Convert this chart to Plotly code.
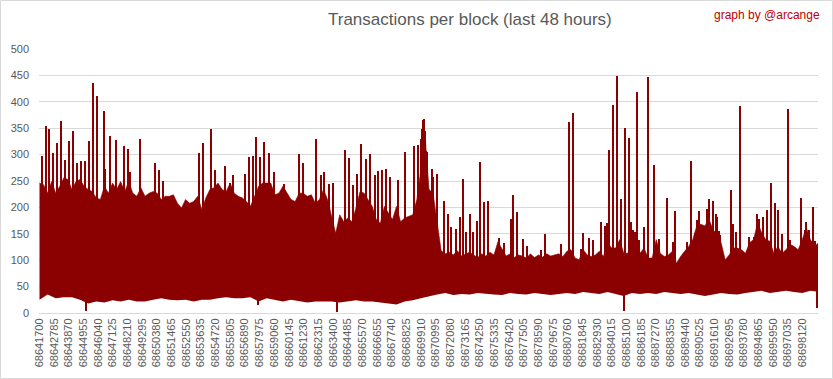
import plotly.graph_objects as go

# ---------------- data ----------------
FIRST_BLOCK = 68641700
TICK_STEP = 1085
TICK_COUNT = 53

# upper edge of the dense band, sampled every 300 blocks
top_blocks = [FIRST_BLOCK + 300 * k for k in range(193)]
env_top = [246, 243, 227, 249, 227, 240, 256, 253, 234, 249,
           253, 240, 234, 230, 218, 215, 240, 227, 246, 234,
           249, 230, 249, 227, 221, 237, 221, 227, 230, 227,
           215, 221, 221, 224, 208, 199, 215, 208, 211, 221,
           196, 218, 234, 237, 246, 234, 230, 246, 227, 221,
           218, 211, 202, 221, 240, 246, 246, 246, 224, 227,
           240, 227, 215, 211, 227, 227, 221,
           224, 208, 215, 234, 215, 183, 151, 186, 173, 180,
           173, 199, 230, 227, 215, 202, 177, 170, 202, 189,
           177, 202, 173, 180, 183, 186, 215, 272, 340, 234,
           227, 177,
           118, 112, 115, 110, 118, 108, 112, 115, 110, 105,
           112, 108, 115, 110, 135, 120, 108, 112, 105, 110,
           108, 104, 112, 105, 110, 106, 112, 108, 110, 112,
           107, 117, 120, 104, 101, 120, 110, 107, 110, 117,
           107, 133, 123, 123, 139, 113, 113, 133, 130, 113,
           123, 104, 104, 139, 113, 107, 110, 117, 94, 107,
           117, 126, 139, 165, 168, 165, 178, 158, 149, 133,
           101, 110, 123, 123, 120, 113, 133, 139, 171, 152,
           139, 136, 113, 126, 113, 120, 130, 126, 120, 139,
           162, 139, 126, 133]

# lower edge of the dense band, sampled every 600 blocks
low_blocks = [FIRST_BLOCK + 600 * k for k in range(97)]
env_low = [25, 35, 28, 30, 30, 25, 18, 22, 20, 24,
           22, 25, 22, 22, 25, 28, 25, 24, 25, 22,
           25, 25, 28, 30, 28, 28, 30, 22, 28, 25,
           22, 25, 22, 20, 22, 22, 22, 20, 22, 24,
           22, 22, 20, 18, 16, 22, 24, 28, 32, 35,
           38, 34, 36, 35, 38, 36, 35, 34, 38, 36,
           35, 38, 36, 34, 36, 38, 36, 40, 38, 36,
           40, 36, 32, 38, 36, 38, 36, 40, 38, 36,
           38, 35, 32, 35, 38, 36, 35, 38, 40, 42,
           38, 40, 42, 40, 38, 42, 40]

# individual blocks standing out above the dense band
spike_blocks = [
    68641922, 68642218, 68642439, 68642735, 68643031, 68643327, 68643622, 68643918,
    68644214, 68644510, 68644805, 68645101, 68645397, 68645693, 68645989, 68646506,
    68646580, 68646950, 68647393, 68647985, 68648281, 68648429, 68649168, 68650277,
    68650573, 68650869, 68653530, 68653826, 68654418, 68654713, 68655453, 68655823,
    68656044, 68656932, 68657227, 68657523, 68657745, 68658041, 68658337, 68658706,
    68659076,
    68659815, 68660924, 68661220, 68662181, 68662551, 68662773, 68663143, 68663438,
    68664326, 68664621, 68664917, 68665213, 68665509, 68665878, 68666174, 68666544,
    68666766, 68667061, 68667357, 68667653, 68668244, 68668762, 68669428, 68669723,
    68669945, 68670019, 68670093, 68670167, 68670241, 68670315, 68670389, 68670758,
    68670832, 68671128, 68671646, 68671941, 68672163, 68672533, 68672829, 68673051,
    68673272, 68673568, 68673790, 68674086, 68674308, 68674603, 68674899, 68675712,
    68676082, 68676600, 68676748, 68677043, 68677487, 68677783, 68678818, 68679114,
    68680297, 68680888, 68681184, 68681775, 68681923, 68682367, 68682663, 68683254,
    68683550, 68683698, 68683846, 68684142, 68684437, 68684733, 68685029, 68685325,
    68685472, 68685620, 68685768, 68685916, 68686064, 68686434, 68686729, 68687173,
    68687543, 68688134, 68688578, 68688726, 68689613, 68689909, 68690205, 68690353,
    68690500, 68690648, 68690796, 68691092, 68691240, 68691388, 68691536, 68691757,
    68691831, 68691979, 68692053, 68692867, 68693014, 68693236, 68693532, 68694197,
    68694567, 68694789, 68694937, 68695233, 68695528, 68695824, 68696120, 68696342,
    68696637, 68697081, 68697229, 68698042, 68698338, 68698412, 68698634, 68698930,
    68699077]
spike_values = [
    298, 354, 349, 303, 322, 363, 290, 325,
    344, 285, 287, 288, 325, 436, 411, 382,
    272, 335, 327, 316, 311, 267, 329, 285,
    271, 250, 303, 322, 349, 271, 279, 247,
    262, 263, 295, 298, 334, 295, 324, 303,
    268,
    245, 302, 285, 329, 262, 268, 245, 247,
    308, 294, 242, 263, 321, 292, 301, 262,
    269, 271, 272, 258, 252, 305, 317, 319,
    330, 348, 365, 367, 345, 306, 305, 272,
    258, 263, 213, 188, 162, 159, 181, 253,
    153, 188, 153, 175, 286, 210, 213, 143,
    133, 178, 223, 191, 140, 127, 120, 149,
    131, 362, 378, 121, 151, 143, 138, 173,
    165, 171, 308, 394, 449, 215, 351, 331,
    173, 158, 154, 419, 138, 162, 447, 281,
    140, 217, 135, 194, 135, 288, 149, 176,
    194, 167, 162, 197, 215, 162, 212, 188,
    181, 156, 147, 233, 169, 154, 392, 144,
    144, 188, 178, 181, 195, 246, 209, 195,
    149, 386, 138, 217, 157, 172, 158, 200,
    137]

# individual blocks standing out below the dense band
dip_blocks = [68645175, 68657893, 68663734, 68684955, 68699225]
dip_values = [3, 15, 1, 4, 9]

# narrow value gaps inside the band (block, gap bottom, gap top)
gap_blocks = [68670041, 68683698, 68691609]
gap_bottom = [31, 40, 42]
gap_top = [116, 63, 70]

tick_blocks = [FIRST_BLOCK + TICK_STEP * k for k in range(TICK_COUNT)]
tick_labels = [str(b) for b in tick_blocks]
y_ticks = [0, 50, 100, 150, 200, 250, 300, 350, 400, 450, 500]

TITLE = "Transactions per block (last 48 hours)"
CREDIT = "graph by @arcange"

# ---------------- figure ----------------
RED = "#8b0000"
GRID = "#d9d9d9"
TXT = "#595959"
FONT = "Liberation Sans"
BAND_BASE = 60

fig = go.Figure()
fig.add_trace(go.Scatter(x=low_blocks, y=env_low, mode="lines",
                         line=dict(width=0, color=RED), hoverinfo="skip",
                         showlegend=False))
fig.add_trace(go.Scatter(x=top_blocks, y=env_top, mode="lines",
                         line=dict(width=0.6, color=RED), fill="tonexty",
                         fillcolor=RED, showlegend=False))
fig.add_trace(go.Bar(x=spike_blocks, y=[v - BAND_BASE for v in spike_values],
                     base=BAND_BASE, width=95,
                     marker=dict(color=RED, line=dict(width=0)), showlegend=False))
fig.add_trace(go.Bar(x=dip_blocks, y=[BAND_BASE - v for v in dip_values],
                     base=dip_values, width=95,
                     marker=dict(color=RED, line=dict(width=0)), showlegend=False))
fig.add_trace(go.Bar(x=gap_blocks, y=[t - b for t, b in zip(gap_top, gap_bottom)],
                     base=gap_bottom, width=70,
                     marker=dict(color="white", line=dict(width=0)), showlegend=False))

W, H = 833, 379
ML, MR, MT, MB = 39, 15, 49, 66
pw = W - ML - MR
ph = H - MT - MB


def px(xp):
    return (xp - ML) / pw


def py(yp):
    return (H - MB - yp) / ph


fig.update_layout(
    width=W, height=H,
    margin=dict(l=ML, r=MR, t=MT, b=MB, pad=0),
    paper_bgcolor="white", plot_bgcolor="white",
    barmode="overlay", bargap=0,
    font=dict(family=FONT, color=TXT, size=11),
    xaxis=dict(range=[FIRST_BLOCK - 37, FIRST_BLOCK - 37 + 57600],
               tickmode="array", tickvals=tick_blocks, ticktext=tick_labels,
               tickangle=-90, showgrid=False, zeroline=False,
               showline=True, linecolor=GRID, linewidth=1, ticks="",
               tickfont=dict(size=11, color=TXT)),
    yaxis=dict(range=[0, 500], tickmode="array", tickvals=y_ticks,
               showgrid=True, gridcolor=GRID, gridwidth=1, zeroline=False,
               showline=False, ticks="", ticklabelstandoff=9,
               tickfont=dict(size=11, color=TXT)),
    annotations=[
        dict(text=TITLE, xref="paper", yref="paper", x=px(470), y=py(20),
             xanchor="center", yanchor="middle", showarrow=False,
             font=dict(size=17, color=TXT, family=FONT)),
        dict(text=CREDIT, xref="paper", yref="paper", x=px(822), y=py(15),
             xanchor="right", yanchor="middle", showarrow=False,
             font=dict(size=12, color="#c00000", family=FONT)),
    ],
    shapes=[dict(type="rect", xref="paper", yref="paper",
                 x0=px(0.5), x1=px(W - 0.5), y0=py(H - 0.5), y1=py(0.5),
                 line=dict(color=GRID, width=1), layer="below")],
)

fig.write_html("out.html", config={"displayModeBar": False},
               post_script="document.body.style.margin='0';")
